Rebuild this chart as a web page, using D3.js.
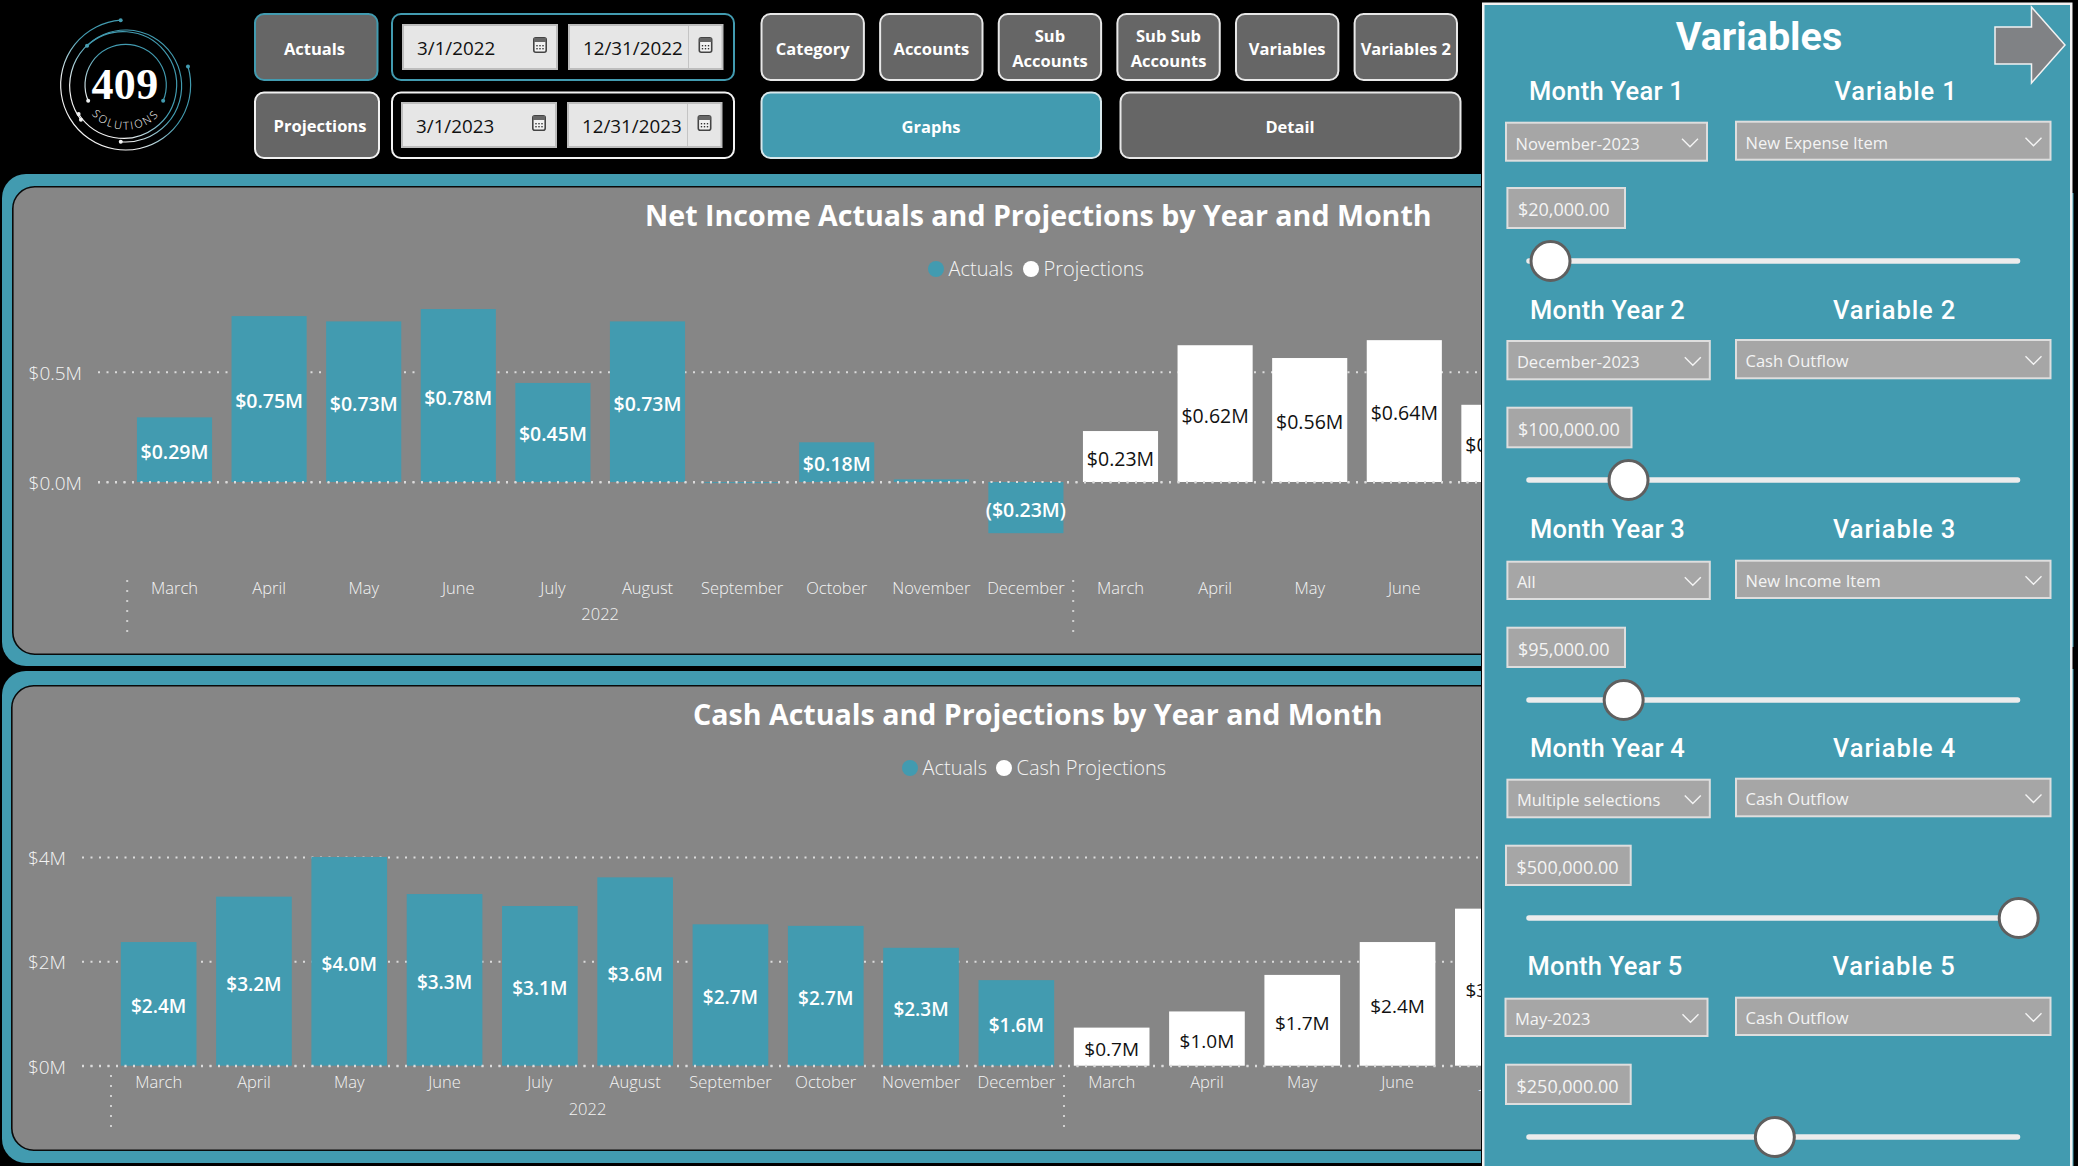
<!DOCTYPE html>
<html>
<head>
<meta charset="utf-8">
<script src="https://cdn.jsdelivr.net/npm/d3@7"></script>
<style>
  html, body { margin: 0; background: #000; overflow: hidden; }
  text { font-family: "Open Sans", sans-serif; }
</style>
</head>
<body>
<script>
// Chart data
const monthNames2022 = ["March", "April", "May", "June", "July", "August", "September", "October", "November", "December"];
const monthNames2023 = ["March", "April", "May", "June", "July"];
const years = ["2022"];

const netActuals = [0.293, 0.752, 0.728, 0.784, 0.449, 0.728, -0.004, 0.18, 0.012, -0.232];
const netProjections = [0.231, 0.62, 0.562, 0.643, 0.35];
const netTicks = [0, 0.5];

const cashActuals = [2.37, 3.24, 4.0, 3.29, 3.06, 3.61, 2.71, 2.68, 2.26, 1.64];
const cashProjections = [0.73, 1.04, 1.74, 2.37, 3.01];
const cashTicks = [0, 2, 4];

// Slicer contents
const navLabels = [["Category"], ["Accounts"], ["Sub", "Accounts"], ["Sub Sub", "Accounts"], ["Variables"], ["Variables 2"]];
const actualDates = ["3/1/2022", "12/31/2022"];
const projectionDates = ["3/1/2023", "12/31/2023"];
const monthYears = ["November-2023", "December-2023", "All", "Multiple selections", "May-2023"];
const variableNames = ["New Expense Item", "Cash Outflow", "New Income Item", "Cash Outflow", "Cash Outflow"];
const amounts = [20000, 100000, 95000, 500000, 250000];
const amountTicks = [0, 500000];

const teal = "#429bb0";
const plotGray = "#868686";
const buttonGray = "#666666";
const slicerGray = "#a6a6a6";
const lightFont = "#f4f4f4";

const width = 2078;
const height = 1166;

const svg = d3.select("body").append("svg")
    .attr("width", width)
    .attr("height", height)
    .style("display", "block");

const defs = svg.append("defs");

defs.append("clipPath").attr("id", "left-side")
    .append("rect").attr("x", 0).attr("y", 0).attr("width", 1481).attr("height", height);

const logoGradient = defs.append("linearGradient").attr("id", "logo-gradient")
    .attr("gradientUnits", "userSpaceOnUse")
    .attr("x1", 380).attr("y1", 110).attr("x2", 130).attr("y2", 380);
logoGradient.append("stop").attr("offset", "0.45").attr("stop-color", teal);
logoGradient.append("stop").attr("offset", "0.8").attr("stop-color", "#f2f2f2");

const label = (g, x, y, txt, opts = {}) => g.append("text")
    .attr("x", x)
    .attr("y", y)
    .attr("dy", "0.36em")
    .attr("text-anchor", opts.anchor || "middle")
    .attr("fill", opts.fill || "#fff")
    .attr("font-size", opts.size || 16)
    .attr("font-weight", opts.weight || 400)
    .attr("letter-spacing", opts.spacing || null)
    .style("font-family", opts.family || null)
    .text(txt);

// x0..y1 are the outer edges of the box, the stroke stays inside them
const box = (g, x0, y0, x1, y1, fill, stroke, r = 0, sw = 2) => g.append("rect")
    .attr("x", x0 + sw / 2)
    .attr("y", y0 + sw / 2)
    .attr("width", x1 - x0 - sw)
    .attr("height", y1 - y0 - sw)
    .attr("rx", r)
    .attr("fill", fill)
    .attr("stroke", stroke)
    .attr("stroke-width", sw);

// Logo
const drawLogo = () => {
    const g = svg.append("g").attr("transform", "translate(40,5) scale(0.3333)");
    const cx = 257;
    const cy = 240;
    const rings = [
        {r: 122, cx: 257, cy: 240, a0: -112.8, a1: 112.8},
        {r: 160, cx: 250, cy: 240, a0: -42.8, a1: 237},
        {r: 168, cx: 257, cy: 243, a0: -127, a1: 185},
        {r: 195, cx: 257, cy: 240, a0: -286.5, a1: -4.4},
    ];
    const rad = d => d * Math.PI / 180;
    rings.forEach(d => {
        const p = d3.path();
        p.arc(d.cx, d.cy, d.r, rad(d.a0 - 90), rad(d.a1 - 90));
        g.append("path").attr("d", p.toString()).attr("fill", "none")
            .attr("stroke", "url(#logo-gradient)").attr("stroke-width", 3.5);
        [d.a0, d.a1].forEach(a => {
            g.append("circle")
                .attr("cx", d.cx + d.r * Math.cos(rad(a - 90)))
                .attr("cy", d.cy + d.r * Math.sin(rad(a - 90)))
                .attr("r", 6)
                .attr("fill", "url(#logo-gradient)");
        });
    });
    g.append("text").attr("x", 255).attr("y", 281).attr("text-anchor", "middle")
        .attr("fill", "#fff").attr("font-size", 132).attr("font-weight", 700)
        .style("font-family", "'Liberation Serif', serif")
        .attr("letter-spacing", 1)
        .text("409");
    const arcPath = d3.path();
    arcPath.arc(cx, cy - 4, 138, rad(172), rad(8), true);
    defs.append("path").attr("id", "logo-arc").attr("d", arcPath.toString());
    g.append("text").attr("fill", "#fff").attr("font-size", 33).attr("font-weight", 300)
        .attr("letter-spacing", 6)
        .append("textPath").attr("href", "#logo-arc").attr("startOffset", "50%")
        .attr("text-anchor", "middle").text("SOLUTIONS");
};
drawLogo();

// Calendar icon of the date pickers
const calendar = (g, cx, cy) => {
    box(g, cx - 7, cy - 8, cx + 7, cy + 8, "#f2f2f2", "#444", 2, 1.6);
    g.append("rect").attr("x", cx - 6).attr("y", cy - 7).attr("width", 12).attr("height", 4).attr("fill", "#666");
    [-3, 0, 3].forEach(dx => [0, 3].forEach(dy => {
        g.append("rect").attr("x", cx + dx - 0.7).attr("y", cy + dy).attr("width", 1.4).attr("height", 1.4).attr("fill", "#333");
    }));
};

// Top bar: Actuals and Projections date ranges
const drawDateRow = (name, dates, stroke, y0, y1, bx1, textX, textY, boxShift, boxY0, boxY1) => {
    const g = svg.append("g");
    box(g, 254, y0, bx1, y1, buttonGray, stroke, 9);
    label(g, textX, textY, name, {size: 16.5, weight: 700});
    box(g, 391, y0, 735, y1, "#000", stroke, 9);
    const ranges = [[402 + boxShift, 558 + boxShift], [568 + boxShift, 723.5 + boxShift]];
    dates.forEach((d, i) => {
        box(g, ranges[i][0], boxY0, ranges[i][1], boxY1, "#e6e6e6", "#bdbdbd", 0, 2);
        label(g, ranges[i][0] + 15, (boxY0 + boxY1) / 2 + 1, d, {anchor: "start", fill: "#111", size: 18.8});
        calendar(g, ranges[i][1] - 18, (boxY0 + boxY1) / 2 - 2);
    });
    g.append("line").attr("x1", ranges[1][1] - 35).attr("x2", ranges[1][1] - 35)
        .attr("y1", boxY0 + 2).attr("y2", boxY1 - 2).attr("stroke", "#c4c4c4");
};
drawDateRow("Actuals", actualDates, teal, 13, 81, 378.5, 314.5, 49, 0, 24, 70);
drawDateRow("Projections", projectionDates, "#f2f2f2", 91.5, 159, 380, 320, 126, -1, 102, 148);

// Navigation buttons
const navX = d3.scaleBand().domain(d3.range(navLabels.length)).range([760.5, 1458]).paddingInner(0.12);
const navG = svg.append("g");
navLabels.forEach((lines, i) => {
    const x0 = navX(i);
    box(navG, x0, 13, x0 + navX.bandwidth(), 81, buttonGray, "#e8e8e8", 9);
    lines.forEach((t, j) => {
        label(navG, x0 + navX.bandwidth() / 2, lines.length > 1 ? 36 + j * 25 : 49, t, {size: 16.5, weight: 700});
    });
});
box(navG, 760.5, 91.5, 1102, 159, teal, "#d8e8ec", 9);
label(navG, 931, 127, "Graphs", {size: 16.5, weight: 700});
box(navG, 1119.5, 91.5, 1461.5, 159, buttonGray, "#e8e8e8", 9);
label(navG, 1290, 127, "Detail", {size: 16.5, weight: 700});

// One bar panel. Scales are set by the two reference points of each chart
const drawPanel = (cfg) => {
    const g = svg.append("g").attr("clip-path", "url(#left-side)");
    box(g, 2, cfg.outer[0], 1520, cfg.outer[1], teal, "none", 24, 0);
    box(g, cfg.innerX, cfg.inner[0], 1520, cfg.inner[1], plotGray, "#0a0a0a", 22, 1.6);

    label(g, cfg.titleX, cfg.titleY, cfg.title, {size: 28.6, weight: 700, anchor: "start"});

    const keys = monthNames2022.map(m => `2022-${m}`).concat(monthNames2023.map(m => `2023-${m}`));
    const x = d3.scaleBand().domain(keys)
        .range([cfg.x0, cfg.x0 + keys.length * cfg.step])
        .paddingInner(0.206)
        .paddingOuter(0.103);

    const y = d3.scaleLinear().domain(cfg.yDomain).range(cfg.yRange);

    // Value axis with dotted gridlines
    const gridLength = 1481 - cfg.gridX;
    const yAxis = g.append("g")
        .attr("transform", `translate(${cfg.gridX},0)`)
        .call(d3.axisLeft(y).tickValues(cfg.ticks).tickFormat(cfg.tickFormat).tickSize(-gridLength).tickPadding(16));
    yAxis.select(".domain").remove();
    yAxis.selectAll(".tick line").attr("stroke", "#dcdcdc").attr("stroke-width", 2).attr("stroke-dasharray", "2 6.5");
    yAxis.selectAll(".tick text").attr("fill", lightFont).attr("font-size", 19).attr("font-weight", 300)
        .attr("dy", "0.4em")
        .style("font-family", "'Open Sans', sans-serif");

    // Bars
    const rows = keys.map((k, i) => ({
        key: k,
        value: i < 10 ? cfg.actuals[i] : cfg.projections[i - 10],
        projected: i >= 10,
    }));
    g.append("g").selectAll("rect").data(rows).join("rect")
        .attr("x", d => x(d.key))
        .attr("width", x.bandwidth())
        .attr("y", d => Math.min(y(d.value), y(0)))
        .attr("height", d => Math.abs(y(d.value) - y(0)))
        .attr("fill", d => d.projected ? "#fff" : teal);

    // The zero line stays visible along the foot of the bars
    g.append("line")
        .attr("x1", cfg.gridX).attr("x2", 1481)
        .attr("y1", y(0)).attr("y2", y(0))
        .attr("stroke", "#dcdcdc").attr("stroke-width", 2).attr("stroke-dasharray", "2 6.5");

    // Data labels sit in the middle of the bars. The slivers get none
    g.append("g").selectAll("text").data(rows.filter(d => Math.abs(d.value) > cfg.labelMin)).join("text")
        .attr("x", d => x(d.key) + x.bandwidth() / 2)
        .attr("y", d => (y(d.value) + y(0)) / 2 + cfg.labelShift)
        .attr("dy", "0.36em")
        .attr("text-anchor", "middle")
        .attr("fill", d => d.projected ? "#111" : "#fff")
        .attr("font-size", cfg.labelSize)
        .attr("font-weight", d => d.projected ? 400 : 600)
        .text(d => cfg.valueFormat(d.value));

    // Month axis
    const xAxis = g.append("g")
        .attr("transform", `translate(0,${cfg.axisY})`)
        .call(d3.axisBottom(x).tickSize(0).tickPadding(0).tickFormat(k => k.split("-")[1]));
    xAxis.select(".domain").remove();
    xAxis.selectAll(".tick text").attr("fill", lightFont).attr("font-size", 16.5).attr("font-weight", 300)
        .style("font-family", "'Open Sans', sans-serif");

    // Year separators and the year label
    const sepX = ["2022-March", "2023-March"].map(k => x(k) + x.bandwidth() / 2 - x.step() / 2);
    g.append("g").selectAll("line").data(sepX).join("line")
        .attr("x1", d => d).attr("x2", d => d)
        .attr("y1", cfg.sepY[0]).attr("y2", cfg.sepY[1])
        .attr("stroke", "#d0d0d0").attr("stroke-width", 2).attr("stroke-dasharray", "2 8");
    label(g, (sepX[0] + sepX[1]) / 2, cfg.yearY, years[0], {size: 16.5, weight: 300, fill: lightFont});

    // Legend
    cfg.legend.forEach(d => {
        g.append("circle").attr("cx", d.cx).attr("cy", cfg.legendY).attr("r", 8).attr("fill", d.color);
        label(g, d.cx + 12.5, cfg.legendY, d.name, {anchor: "start", size: 20, weight: 300, fill: lightFont});
    });
};

const netValueFormat = v => {
    const t = `$${Math.abs(v).toFixed(2)}M`;
    return v < 0 ? `(${t})` : t;
};

drawPanel({
    outer: [174, 666], inner: [186, 655], innerX: 12,
    title: "Net Income Actuals and Projections by Year and Month", titleX: 645, titleY: 216,
    x0: 127.2, step: 94.6,
    yDomain: [0, 0.5], yRange: [482, 371.7], gridX: 98,
    ticks: netTicks, tickFormat: d => `$${d.toFixed(1)}M`,
    actuals: netActuals, projections: netProjections,
    valueFormat: netValueFormat, labelMin: 0.05, labelSize: 19.5, labelShift: 2,
    axisY: 582, sepY: [580, 632], yearY: 614,
    legendY: 269,
    legend: [{name: "Actuals", cx: 936, color: teal}, {name: "Projections", cx: 1031, color: "#fff"}],
});

drawPanel({
    outer: [671, 1163], inner: [685, 1151], innerX: 11,
    title: "Cash Actuals and Projections by Year and Month", titleX: 693, titleY: 715,
    x0: 111, step: 95.3,
    yDomain: [0, 4], yRange: [1065.7, 857], gridX: 82,
    ticks: cashTicks, tickFormat: d => `$${d}M`,
    actuals: cashActuals, projections: cashProjections,
    valueFormat: v => `$${v.toFixed(1)}M`, labelMin: 0.05, labelSize: 19, labelShift: 2.5,
    axisY: 1076, sepY: [1075, 1127], yearY: 1109,
    legendY: 768,
    legend: [{name: "Actuals", cx: 910, color: teal}, {name: "Cash Projections", cx: 1004, color: "#fff"}],
});

// Thin slivers of the panels that show past the right edge of the Variables pane
const slivers = svg.append("g");
box(slivers, 2072, 193, 2073.5, 647, teal, "none", 0, 0);
box(slivers, 2072, 669, 2073.5, 1166, teal, "none", 0, 0);

// Variables panel on the right
const panel = svg.append("g");
box(panel, 1482, 2.5, 2072.5, 1178, teal, "#f2f2f2", 0, 2.5);
const din = "Roboto, sans-serif";
label(panel, 1759, 36, "Variables", {size: 39.5, weight: 700, family: din});
panel.append("polygon")
    .attr("points", [[1995, 27], [2031.5, 27], [2031.5, 7], [2065, 45], [2031.5, 83], [2031.5, 64], [1995, 64]].join(" "))
    .attr("fill", "#808285")
    .attr("stroke", "#f2f2f2")
    .attr("stroke-width", 1.5);

const rowLayout = [
    {label: 91, labelX: 1529, varX: 1834.5, dropX: [1505, 1708], drop: [121.7, 161.7], box: [187, 229], boxX: [1506.4, 1626], slider: 261},
    {label: 310, labelX: 1530, varX: 1833, dropX: [1506.4, 1710.8], drop: [340, 380.3], box: [406.7, 448.3], boxX: [1506.4, 1632.5], slider: 480},
    {label: 529, labelX: 1530, varX: 1833, dropX: [1506.4, 1710.8], drop: [560.7, 600], box: [626.7, 668], boxX: [1506.4, 1626], slider: 700},
    {label: 748, labelX: 1530, varX: 1833, dropX: [1506.4, 1710.8], drop: [778.7, 818.3], box: [844.7, 886], boxX: [1505, 1631.7], slider: 918},
    {label: 966, labelX: 1527.4, varX: 1832.5, dropX: [1504.5, 1708.5], drop: [997.7, 1037], box: [1063.7, 1105], boxX: [1505, 1631.7], slider: 1137},
];
const sliderX = d3.scaleLinear().domain(amountTicks).range([1531, 2018.7]);
const amountFormat = d3.format("$,.2f");

const dropdown = (g, x0, y0, x1, y1, txt) => {
    box(g, x0, y0, x1, y1, slicerGray, "#dedede", 0, 2);
    label(g, x0 + 10.5, (y0 + y1) / 2 + 2, txt, {anchor: "start", size: 16.5, fill: lightFont});
    const cx = x1 - 18;
    const cy = (y0 + y1) / 2 + 1;
    g.append("path").attr("d", d3.line()([[cx - 8, cy - 4], [cx, cy + 4], [cx + 8, cy - 4]]))
        .attr("fill", "none").attr("stroke", "#f4f4f4").attr("stroke-width", 1.4);
};

rowLayout.forEach((r, i) => {
    const g = panel.append("g");
    label(g, r.labelX, r.label, `Month Year ${i + 1}`, {anchor: "start", size: 25.5, weight: 500, family: din, spacing: 0.25});
    label(g, r.varX, r.label - 0.5, `Variable ${i + 1}`, {anchor: "start", size: 25.5, weight: 500, family: din, spacing: 0.9});
    dropdown(g, r.dropX[0], r.drop[0], r.dropX[1], r.drop[1], monthYears[i]);
    dropdown(g, 1735, r.drop[0] - 1, 2051.5, r.drop[1] - 1, variableNames[i]);
    box(g, r.boxX[0], r.box[0], r.boxX[1], r.box[1], slicerGray, "#dedede", 0, 2);
    label(g, r.boxX[0] + 11.5, (r.box[0] + r.box[1]) / 2 + 2, amountFormat(amounts[i]), {anchor: "start", size: 18, fill: lightFont});
    g.append("line").attr("x1", 1529).attr("x2", 2017.5).attr("y1", r.slider).attr("y2", r.slider)
        .attr("stroke", "#ececec").attr("stroke-width", 5.5).attr("stroke-linecap", "round");
    g.append("circle").attr("cx", sliderX(amounts[i])).attr("cy", r.slider).attr("r", 19.5)
        .attr("fill", "#fff").attr("stroke", "#5f5f5f").attr("stroke-width", 3);
});
</script>
</body>
</html>
